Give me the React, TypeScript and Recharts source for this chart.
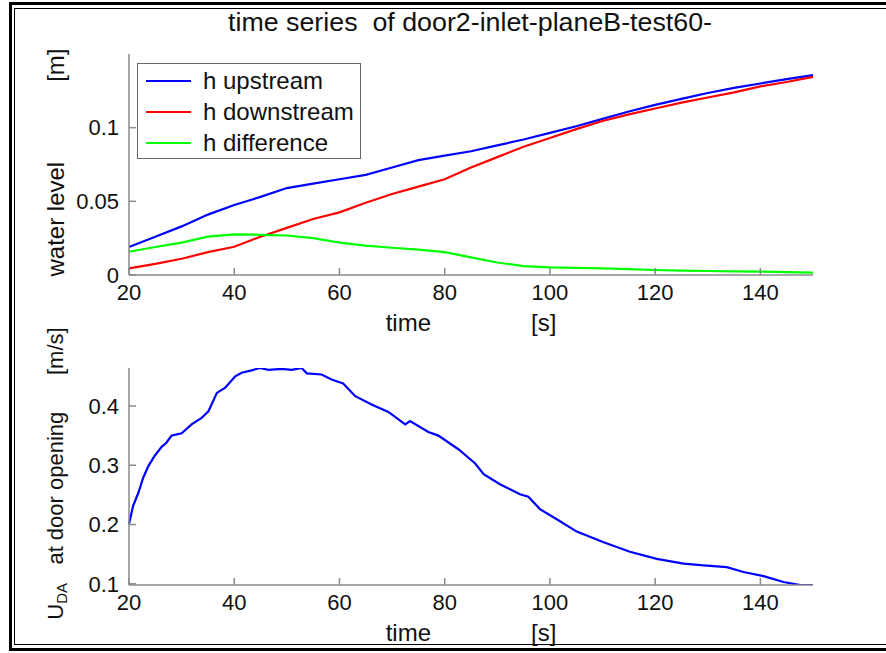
import { LineChart, Line, XAxis, YAxis, Legend, Label } from "recharts";

// water level series, sampled every 5 s
const hTime = [20, 25, 30, 35, 40, 45, 50, 55, 60, 65, 70, 75, 80, 85, 90, 95, 100, 105, 110, 115, 120, 125, 130, 135, 140, 145, 150];
const hUpstream = [0.019, 0.026, 0.033, 0.041, 0.0475, 0.053, 0.059, 0.062, 0.065, 0.068, 0.073, 0.078, 0.081, 0.084, 0.088, 0.092, 0.0965, 0.101, 0.106, 0.111, 0.1155, 0.1195, 0.1235, 0.127, 0.130, 0.133, 0.1357];
const hDownstream = [0.0045, 0.0075, 0.011, 0.0155, 0.0192, 0.026, 0.032, 0.038, 0.0425, 0.049, 0.055, 0.060, 0.065, 0.073, 0.080, 0.087, 0.093, 0.099, 0.1045, 0.109, 0.113, 0.117, 0.1205, 0.124, 0.128, 0.131, 0.1345];
const hDifference = [0.0158, 0.019, 0.022, 0.026, 0.0276, 0.0273, 0.0268, 0.025, 0.022, 0.020, 0.0185, 0.0172, 0.0155, 0.012, 0.0085, 0.006, 0.0052, 0.0048, 0.0045, 0.004, 0.0034, 0.003, 0.0027, 0.0025, 0.0023, 0.002, 0.0016];
const seriesNames = ["h upstream", "h downstream", "h difference"];

// velocity at the door opening
const uTime = [20, 20.8, 21.8, 22.7, 23.7, 24.9, 26.2, 27.1, 28.1, 30, 31.9, 33.8, 35.1, 36.7, 38.3, 40.2, 41.4, 43.3, 44.9, 46.5, 49, 50.9, 52.8, 53.8, 56.6, 58.5, 60.7, 63, 66.1, 69.3, 72.5, 73.4, 76.9, 78.8, 82.6, 85.8, 87.4, 90.5, 94.3, 95.9, 98.1, 101.3, 105.1, 110.2, 115.2, 120.3, 125.4, 129.2, 133.6, 136.8, 140.6, 144.4, 147.6, 150];
const uDA = [0.201, 0.232, 0.254, 0.279, 0.299, 0.316, 0.331, 0.338, 0.35, 0.354, 0.369, 0.38, 0.391, 0.422, 0.431, 0.45, 0.456, 0.46, 0.464, 0.461, 0.4625, 0.461, 0.464, 0.455, 0.453, 0.4445, 0.438, 0.4165, 0.4025, 0.39, 0.369, 0.3745, 0.356, 0.35, 0.327, 0.303, 0.285, 0.268, 0.251, 0.247, 0.226, 0.209, 0.188, 0.17, 0.154, 0.142, 0.134, 0.131, 0.128, 0.12, 0.113, 0.103, 0.098, 0.098];

const timeTicks = [20, 40, 60, 80, 100, 120, 140];
const levelTicks = [0, 0.05, 0.1];
const speedTicks = [0.1, 0.2, 0.3, 0.4];

const levelRows = hTime.map((t, i) => ({ t, up: hUpstream[i], down: hDownstream[i], diff: hDifference[i] }));
const speedRows = uTime.map((t, i) => ({ t, u: uDA[i] }));

const FONT = "'Liberation Sans', Arial, Helvetica, sans-serif";
const AXIS = "#8a8a8a";
const tickStyle = { fill: "#111", fontSize: 22, fontFamily: FONT };
const none = () => "";

const XTitle = ({ viewBox }: any) => (
  <text x={viewBox.x + viewBox.width / 2} y={viewBox.y + 56} textAnchor="middle" fontSize={24} fontFamily={FONT} fill="#111" style={{ whiteSpace: "pre" }}>
    {"time               [s]"}
  </text>
);

const LevelTitle = ({ viewBox }: any) => {
  const x = viewBox.x + 6;
  const y = viewBox.y + viewBox.height / 2 - 2;
  return (
    <text x={x} y={y} transform={`rotate(-90 ${x} ${y})`} textAnchor="middle" dominantBaseline="central" fontSize={24} fontFamily={FONT} fill="#111" style={{ whiteSpace: "pre" }}>
      {"water level            [m]"}
    </text>
  );
};

const SpeedTitle = ({ viewBox }: any) => {
  const x = viewBox.x + 6;
  const y = viewBox.y + viewBox.height / 2 - 3;
  return (
    <text x={x} y={y} transform={`rotate(-90 ${x} ${y})`} textAnchor="middle" dominantBaseline="central" fontSize={22} fontFamily={FONT} fill="#111" style={{ whiteSpace: "pre" }}>
      U<tspan fontSize={15} dy={6}>DA</tspan><tspan dy={-6}>{"   at door opening      [m/s]"}</tspan>
    </text>
  );
};

const LegendBox = ({ payload }: any) => {
  const items = [...(payload || [])].sort((a: any, b: any) => seriesNames.indexOf(a.value) - seriesNames.indexOf(b.value));
  return (
    <div style={{ width: 224, height: 96, border: "1px solid #666", background: "#fff", fontFamily: FONT, fontSize: 24, color: "#111", paddingTop: 1, boxSizing: "border-box" }}>
      {items.map((p: any) => (
        <div key={p.value} style={{ display: "flex", alignItems: "center", height: 31 }}>
          <div style={{ width: 45, height: 0, borderTop: `2px solid ${p.color}`, marginLeft: 8, marginRight: 12 }} />
          <span>{p.value}</span>
        </div>
      ))}
    </div>
  );
};

const App = () => {
  return (
    <div style={{ position: "absolute", left: 0, top: 0, width: 886, height: 653, background: "#fff", overflow: "hidden" }}>
      <div style={{ position: "absolute", left: 9, top: 2, width: 900, height: 643, border: "3px solid #000" }} />
      <div style={{ position: "absolute", left: 14, top: 8, width: 900, height: 635, border: "1.5px solid #000" }} />
      <svg style={{ position: "absolute", left: 0, top: 0 }} width={886} height={50}>
        <text x={470} y={31} textAnchor="middle" fontSize={25} fontFamily={FONT} fill="#111" textLength={484} lengthAdjust="spacingAndGlyphs" style={{ whiteSpace: "pre" }}>
          {"time series  of door2-inlet-planeB-test60-"}
        </text>
      </svg>

      <div style={{ position: "absolute", left: 0, top: 0 }}>
        <LineChart width={886} height={340} data={levelRows} margin={{ top: 54, right: 73, bottom: 5, left: 49 }}>
          <XAxis dataKey="t" type="number" domain={[20, 150]} ticks={timeTicks} stroke={AXIS} strokeWidth={1.5} tickSize={-7} tickMargin={16} tick={tickStyle} height={60}>
            <Label content={<XTitle />} />
          </XAxis>
          <XAxis xAxisId="top" orientation="top" dataKey="t" type="number" domain={[20, 150]} ticks={timeTicks} stroke={AXIS} strokeWidth={1.5} tickSize={-7} tickFormatter={none} height={0} />
          <YAxis type="number" domain={[0, 0.15]} ticks={levelTicks} stroke={AXIS} strokeWidth={1.5} tickSize={-7} tickMargin={17} tick={tickStyle} width={80}>
            <Label content={<LevelTitle />} />
          </YAxis>
          <YAxis yAxisId="right" orientation="right" type="number" domain={[0, 0.15]} ticks={levelTicks} stroke={AXIS} strokeWidth={1.5} tickSize={-7} tickFormatter={none} width={0} />
          <Legend layout="vertical" align="center" verticalAlign="middle" content={<LegendBox />} wrapperStyle={{ position: "absolute", left: 137, top: 63, width: 224 }} />
          <Line name={seriesNames[0]} dataKey="up" type="linear" stroke="#0000ff" strokeWidth={2.2} dot={false} isAnimationActive={false} />
          <Line name={seriesNames[1]} dataKey="down" type="linear" stroke="#ff0000" strokeWidth={2.2} dot={false} isAnimationActive={false} />
          <Line name={seriesNames[2]} dataKey="diff" type="linear" stroke="#00ff00" strokeWidth={2.2} dot={false} isAnimationActive={false} />
        </LineChart>
      </div>

      <div style={{ position: "absolute", left: 0, top: 300 }}>
        <LineChart width={886} height={353} data={speedRows} margin={{ top: 68, right: 73, bottom: 8, left: 49 }}>
          <XAxis dataKey="t" type="number" domain={[20, 150]} ticks={timeTicks} stroke={AXIS} strokeWidth={1.5} tickSize={-7} tickMargin={16} tick={tickStyle} height={60}>
            <Label content={<XTitle />} />
          </XAxis>
          <XAxis xAxisId="top" orientation="top" dataKey="t" type="number" domain={[20, 150]} ticks={timeTicks} stroke={AXIS} strokeWidth={1.5} tickSize={-7} tickFormatter={none} height={0} />
          <YAxis type="number" domain={[0.098, 0.464]} allowDataOverflow ticks={speedTicks} stroke={AXIS} strokeWidth={1.5} tickSize={-7} tickMargin={17} tick={tickStyle} width={80}>
            <Label content={<SpeedTitle />} />
          </YAxis>
          <YAxis yAxisId="right" orientation="right" type="number" domain={[0.098, 0.464]} ticks={speedTicks} stroke={AXIS} strokeWidth={1.5} tickSize={-7} tickFormatter={none} width={0} />
          <Line dataKey="u" type="linear" stroke="#0000ff" strokeWidth={2.2} dot={false} isAnimationActive={false} />
        </LineChart>
      </div>
    </div>
  );
};

export default App;
